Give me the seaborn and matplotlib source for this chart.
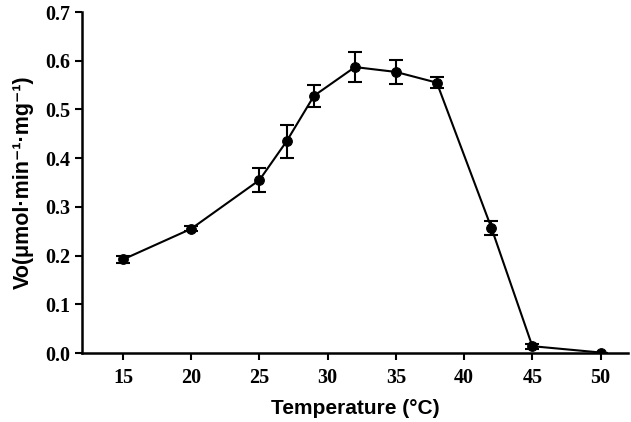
import matplotlib
matplotlib.use('Agg')
import matplotlib.pyplot as plt
import seaborn as sns
import pandas as pd

# 数据：温度 vs 初速度（均值 ± 误差）
temperature = [15, 20, 25, 27, 29, 32, 35, 38, 42, 45, 50]
vo_mean = [0.192, 0.255, 0.355, 0.435, 0.528, 0.587, 0.577, 0.555, 0.257, 0.014, 0.001]
vo_err = [0.007, 0.005, 0.024, 0.034, 0.022, 0.030, 0.024, 0.011, 0.015, 0.005, 0.0]

x_ticks = [15, 20, 25, 30, 35, 40, 45, 50]
y_ticks = [0.0, 0.1, 0.2, 0.3, 0.4, 0.5, 0.6, 0.7]

sns.set_style('ticks')
plt.rcParams['font.family'] = ['Liberation Serif', 'DejaVu Serif']
plt.rcParams['text.color'] = 'black'
plt.rcParams['axes.labelcolor'] = 'black'

df = pd.DataFrame({'T': temperature, 'Vo': vo_mean, 'err': vo_err})

fig = plt.figure(figsize=(6.31, 4.22), dpi=100)
ax = fig.add_axes([0.13, 0.1635, 0.865, 0.808])

ax.errorbar(df['T'], df['Vo'], yerr=df['err'], fmt='none', ecolor='black',
            elinewidth=1.5, capsize=5, capthick=1.5, zorder=2)
sns.lineplot(data=df, x='T', y='Vo', color='black', linewidth=1.5,
             marker='o', markersize=7, markeredgecolor='black', ax=ax, zorder=3)

ax.set_xlim(12, 52)
ax.set_ylim(0, 0.7)
ax.set_xticks(x_ticks)
ax.set_yticks(y_ticks)
ax.set_yticklabels([f'{v:.1f}' for v in y_ticks])

for lab in ax.get_xticklabels() + ax.get_yticklabels():
    lab.set_fontweight('bold')
    lab.set_fontsize(14.5)
    lab.set_color('black')

ax.tick_params(direction='out', length=5, width=1.5, colors='black')
ax.tick_params(axis='x', pad=6)
for s in ['top', 'right']:
    ax.spines[s].set_visible(False)
for s in ['left', 'bottom']:
    ax.spines[s].set_linewidth(1.8)
    ax.spines[s].set_color('black')

ax.set_xlabel('Temperature (°C)', fontsize=15, fontweight='bold',
              family=['Liberation Sans', 'DejaVu Sans'], labelpad=8)
ax.set_ylabel('Vo(μmol·min⁻¹·mg⁻¹)', fontsize=15.5, fontweight='bold',
              family=['Liberation Sans', 'DejaVu Sans'], labelpad=8)

fig.savefig('out.png', dpi=100, facecolor='white')
